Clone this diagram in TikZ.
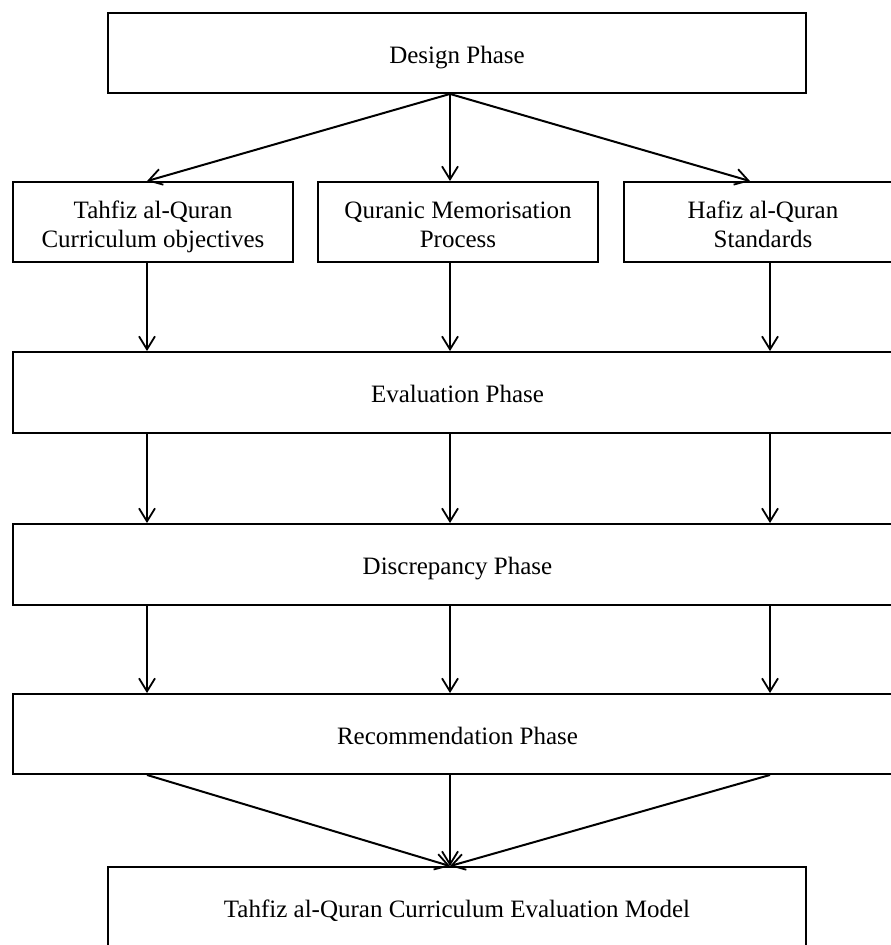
\documentclass[tikz,border=0pt]{standalone}
\usepackage{fontspec}
\setmainfont{Liberation Serif}
\usetikzlibrary{arrows.meta}
\begin{document}
\begin{tikzpicture}[x=1pt,y=-1pt,
  box/.style={draw=black,line width=1.9pt,rectangle,inner sep=0pt,align=center,
    font=\fontsize{25}{29}\selectfont},
  one/.style={text height=26pt,text depth=6pt},
  two/.style={text height=56pt,text depth=6pt},
  arr/.style={line width=2pt,-{Straight Barb[length=13pt,width=16pt,line width=1.8pt]}}]
\useasboundingbox (0,0) rectangle (891,945);
\clip (0,0) rectangle (891,945);
\fill[white] (0,0) rectangle (891,945);
% boxes
\node[box,one,minimum width=698pt,minimum height=80pt] (design) at (457,53) {Design Phase};
\node[box,two,minimum width=280pt,minimum height=80pt] (tahfiz) at (153,222) {Tahfiz al-Quran\\Curriculum objectives};
\node[box,two,minimum width=280pt,minimum height=80pt] (quranic) at (458,222) {Quranic Memorisation\\Process};
\node[box,two,minimum width=278pt,minimum height=80pt] (hafiz) at (763,222) {Hafiz al-Quran\\Standards};
\node[box,one,minimum width=889pt,minimum height=81pt] (eval) at (457.5,392.5) {Evaluation Phase};
\node[box,one,minimum width=889pt,minimum height=81pt] (disc) at (457.5,564.5) {Discrepancy Phase};
\node[box,one,minimum width=889pt,minimum height=80pt] (rec) at (457.5,734) {Recommendation Phase};
\node[box,one,minimum width=698pt,minimum height=80pt] (final) at (457,907) {Tahfiz al-Quran Curriculum Evaluation Model};
% column coordinates
\coordinate (c1) at (147,0);
\coordinate (c2) at (450,0);
\coordinate (c3) at (770,0);
\coordinate (c4) at (750,0);
% design to second row
\draw[arr] (design.south -| c2) -- (tahfiz.north -| c1);
\draw[arr] (design.south -| c2) -- (quranic.north -| c2);
\draw[arr] (design.south -| c2) -- (hafiz.north -| c4);
% second row to evaluation
\draw[arr] (tahfiz.south -| c1) -- (eval.north -| c1);
\draw[arr] (quranic.south -| c2) -- (eval.north -| c2);
\draw[arr] (hafiz.south -| c3) -- (eval.north -| c3);
% evaluation to discrepancy
\draw[arr] (eval.south -| c1) -- (disc.north -| c1);
\draw[arr] (eval.south -| c2) -- (disc.north -| c2);
\draw[arr] (eval.south -| c3) -- (disc.north -| c3);
% discrepancy to recommendation
\draw[arr] (disc.south -| c1) -- (rec.north -| c1);
\draw[arr] (disc.south -| c2) -- (rec.north -| c2);
\draw[arr] (disc.south -| c3) -- (rec.north -| c3);
% recommendation to final
\draw[arr] (rec.south -| c1) -- (final.north -| c2);
\draw[arr] (rec.south -| c2) -- (final.north -| c2);
\draw[arr] (rec.south -| c3) -- (final.north -| c2);
\end{tikzpicture}
\end{document}
